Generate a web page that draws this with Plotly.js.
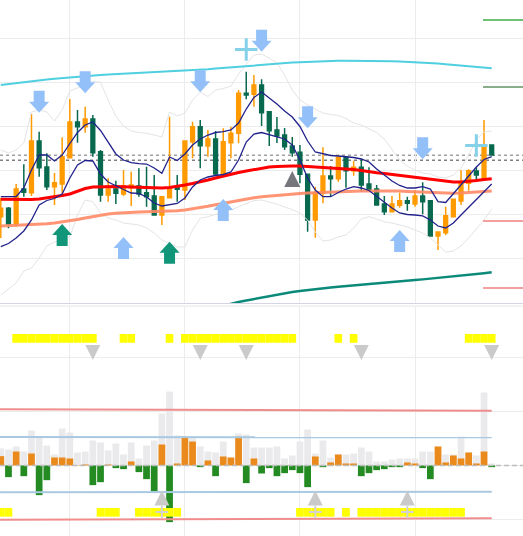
<!DOCTYPE html>
<html><head><meta charset="utf-8">
<script src="https://cdn.plot.ly/plotly-3.0.1.min.js"></script>
<style>html,body{margin:0;padding:0;background:#fff}#chart{width:523px;height:536px}</style>
</head><body><div id="chart"></div>
<script>
// ---------- data (arbitrary price units) ----------
const bars = [0,1,2,3,4,5,6,7,8,9,10,11,12,13,14,15,16,17,18,19,20,21,22,23,24,25,26,27,28,29,30,31,32,33,34,35,36,37,38,39,40,41,42,43,44,45,46,47,48,49,50,51,52,53,54,55,56,57,58,59,60,61,62,63,64];
const open  = [109.39,111.3,107.73,115.68,114.84,126.59,120.68,116.2,116.82,122.8,130.91,129.84,131.59,124.16,114.32,115.68,114.55,115.98,116.36,114.84,114.09,109.77,113.7,115.98,115.45,126.43,129.84,125.45,127.05,119.09,126.2,128.34,137.43,137.2,139.32,133.25,129.09,127.95,125.45,124.02,119.02,108.64,114.7,118.64,118.02,122.89,119.84,120.61,116.82,115.68,112.27,110.52,111.98,113.02,112.27,114.09,113.02,105,105.75,109.39,112.95,116.98,119.77,117.89,125.68];
const high  = [113.64,111.59,116.82,121.3,132.73,128.7,123.8,119.32,127.43,136.14,133.64,134.39,132.5,124.55,118.11,117.57,120,119.61,120.39,120.75,118.86,113.93,132.11,118.86,126.59,130.98,131.36,129.09,128.86,129.48,129.84,138.18,142.34,141.59,140.61,133.25,132.05,129.55,127.5,125.68,119.02,116.2,125.16,120.91,123.41,122.89,122.11,122.43,120.61,116.59,114.09,114.09,114.84,113.93,115.45,117.2,113.02,105.91,111.66,113.34,120,120.16,120.61,131.36,125.68];
const low   = [104.55,106.75,107.11,113.93,114.09,118.48,115.45,112.05,114.7,122.8,126.2,128.48,123.02,112.8,112.8,112.27,114.09,111.82,113.93,111.66,109.77,107.5,113.7,112.8,113.18,122.66,120.39,123.02,118.64,119.09,122.66,126.07,136.07,134.39,130,125.45,126.14,124.55,123.02,116.98,105.98,104.61,112.43,113.93,117.34,115.98,118.7,115.07,115.23,112.05,109.77,110.52,111.43,110.75,111.66,109.93,104.84,101.82,105.23,109.39,112.05,115.3,117.34,117.73,123.41];
const close = [111.3,107.73,115.68,114.93,126.59,120.52,116.2,117.11,123.02,130.91,129.84,131.59,123.93,114.32,115.68,114.7,116.36,116.59,114.55,113.93,109.77,113.93,115.98,115.61,126.59,129.84,125.52,127.05,119.09,126.43,128.34,137.43,137.05,139.32,133.02,128.93,127.73,125.3,123.93,119.02,108.64,114.84,118.64,118.02,122.89,119.84,120.61,116.59,115.45,112.05,110.52,112.27,113.02,112.43,114.09,112.8,105,105.91,109.61,113.34,116.98,119.84,118.86,125.68,123.41];

const cyanLine  = [139.32,139.55,139.77,139.98,140.18,140.39,140.57,140.75,140.91,141.07,141.2,141.34,141.45,141.57,141.68,141.77,141.86,141.95,142.02,142.09,142.16,142.2,142.27,142.36,142.45,142.59,142.73,142.89,143.05,143.2,143.36,143.52,143.66,143.8,143.93,144.07,144.18,144.3,144.41,144.5,144.59,144.66,144.73,144.77,144.82,144.84,144.84,144.84,144.82,144.8,144.77,144.73,144.66,144.59,144.5,144.41,144.3,144.18,144.05,143.91,143.77,143.61,143.45,143.3,143.11];
const redLine   = [113.34,113.30,113.23,113.18,113.30,113.41,113.64,113.86,114.20,114.55,115.11,115.80,116.14,116.20,116.25,116.25,116.20,116.14,116.02,115.91,115.84,115.91,116.02,116.25,116.59,116.93,117.27,117.73,118.18,118.64,118.98,119.43,119.77,120.11,120.45,120.68,120.80,120.91,120.91,120.91,120.84,120.73,120.57,120.45,120.39,120.27,120.11,119.89,119.59,119.36,119.20,118.98,118.70,118.45,118.23,118.00,117.77,117.57,117.39,117.27,117.27,117.39,117.61,117.84,118.00];
const coralLine = [107.27,107.34,107.41,107.48,107.57,107.66,107.80,107.95,108.18,108.45,108.75,109.09,109.43,109.77,110.00,110.18,110.32,110.41,110.45,110.50,110.52,110.57,110.64,110.75,110.91,111.14,111.43,111.75,112.09,112.43,112.77,113.11,113.41,113.68,113.91,114.09,114.25,114.41,114.55,114.68,114.77,114.86,114.93,115.00,115.07,115.14,115.18,115.23,115.25,115.27,115.27,115.25,115.20,115.14,115.05,114.95,114.86,114.77,114.70,114.70,114.77,114.86,114.98,115.09,115.23];
const tealStart = 27;
const tealLine  = [88.30,88.75,89.20,89.66,90.00,90.34,90.68,91.02,91.36,91.68,91.98,92.27,92.50,92.73,92.95,93.14,93.30,93.45,93.59,93.73,93.86,94.02,94.18,94.34,94.50,94.66,94.82,94.98,95.14,95.30,95.45,95.61,95.77,95.96,96.14,96.34,96.55,96.75];
const bandUpper = [113.93,113.93,113.98,115.91,120.00,123.41,123.41,122.05,123.41,126.02,128.52,130.23,130.91,128.98,126.36,123.64,122.27,121.66,121.43,121.36,120.45,119.25,122.95,122.16,123.64,125.68,127.05,127.95,128.52,128.70,129.09,130.68,133.86,136.48,137.73,136.36,135.00,133.41,132.05,129.89,126.59,124.09,123.64,123.30,123.18,123.02,122.84,122.50,121.82,120.23,118.86,117.50,116.48,115.91,115.91,116.20,115.68,112.80,112.61,114.55,116.59,118.64,120.68,122.39,123.02];
const bandLower = [102.57,103.30,104.55,106.14,108.64,112.05,113.07,113.52,114.55,118.18,121.14,122.16,122.05,119.09,117.27,116.36,115.57,114.77,114.70,113.86,112.50,111.82,112.05,112.39,113.64,116.14,117.73,118.41,118.75,118.98,119.55,122.27,126.36,128.18,128.52,128.07,127.61,127.05,125.68,122.27,118.18,115.45,113.93,113.93,114.89,115.68,116.20,115.91,115.34,113.98,112.80,111.36,110.23,109.89,109.77,109.55,108.64,107.27,106.82,107.95,109.77,111.59,113.18,115.00,116.82];
const envUpper  = [124.55,123.86,124.55,126.14,133.18,133.64,133.18,131.14,133.64,137.95,138.64,139.55,140.07,140.00,135.91,132.27,130.00,128.86,128.52,128.34,127.95,127.50,133.18,132.27,132.95,135.91,137.73,136.70,138.18,138.52,139.09,141.82,144.09,146.14,146.36,145.45,144.32,141.59,138.18,135.91,134.77,133.86,132.95,132.61,132.39,131.70,130.68,130.23,129.32,128.52,127.05,124.55,122.27,120.91,120.00,119.32,119.09,118.41,118.18,118.86,120.45,123.41,126.82,128.64,128.86];
const envLower  = [91.59,92.95,94.32,97.05,97.73,100.00,102.73,103.64,104.09,104.77,109.77,113.18,112.80,110.23,109.09,108.64,107.95,107.73,107.50,106.82,105.68,104.09,103.41,102.50,102.50,106.36,109.02,109.39,110.00,110.45,110.91,111.59,112.43,113.07,113.18,112.80,112.27,111.59,111.02,110.23,108.64,105.91,103.86,104.09,104.77,105.23,106.82,108.86,109.39,108.86,108.25,107.95,107.50,107.05,106.36,105.68,104.55,102.95,101.36,101.59,102.73,104.55,106.59,108.64,111.09];

const dottedLevels = [123.34, 122.20];
const sideLevels   = [154.09, 138.86, 108.41, 93.18];
const sideLevelFrom = 62.87;

const downArrowIdx = [5,11,26,34,40,55];
const downArrowTip = [133.02,137.43,137.66,146.89,129.48,122.43];
const upArrowIdx   = [16,29,52];
const upArrowTip   = [104.77,113.41,106.36];
const tealArrowIdx = [8,22];
const tealArrowTip = [107.73,103.70];
const grayTriIdx   = [38];
const grayTriTip   = [119.77];
const plusIdx      = [32,62];
const plusY        = [147.39,125.57];

// lower panel
const volume = [0.315,0.296,0.352,0.259,0.648,0.537,0.370,0.204,0.685,0.611,0.241,0.259,0.463,0.426,0.278,0.407,0.204,0.426,0.130,0.370,0.463,0.963,1.370,0.556,0.537,0.537,0.352,0.259,0.241,0.444,0.148,0.593,0.574,0.333,0.333,0.333,0.352,0.130,0.185,0.444,0.667,0.222,0.463,0.148,0.204,0.204,0.222,0.333,0.259,0.074,0.074,0.111,0.130,0.130,0.130,0.259,0.259,0.352,0.204,0.204,0.537,0.241,0.185,1.352,0.037];
const delta  = [0.173,-0.216,0.259,-0.198,0.222,-0.549,-0.272,0.148,0.148,0.130,0.006,0.019,-0.364,-0.309,0.019,-0.049,-0.068,0.074,-0.123,-0.253,-0.475,0.389,-1.049,0.037,0.537,0.444,-0.031,0.093,-0.198,0.167,0.148,0.537,-0.327,0.130,-0.148,-0.049,-0.198,-0.142,-0.086,-0.142,-0.401,0.167,-0.031,0.056,0.204,0.037,0.037,-0.198,-0.142,-0.086,-0.068,-0.031,-0.031,0.056,0.037,-0.049,-0.253,0.352,0.056,0.185,0.130,0.241,0.037,0.259,-0.031];
const topSignalIdx    = [2,3,4,5,6,7,8,9,10,11,12,16,17,22,24,25,26,27,28,29,30,31,32,33,34,35,36,37,38,44,46,61,62,63,64];
const bottomSignalIdx = [0,1,13,14,15,18,19,20,21,22,23,39,40,41,42,43,45,47,48,49,50,51,52,53,54,55,56,57,58,59,60];
const sellTriIdx = [12,26,32,47,64];
const buyTriIdx  = [21,41,53];
const threshX      = [-0.1, 64];
const upperRed     = [1.041, 1.015];
const upperBlue    = [0.528, 0.522];
const lowerBlue    = [-0.496, -0.485];
const lowerRed     = [-1.004, -0.978];

// ---------- layout geometry ----------
const W = 523, H = 536, TOP_H = 303, BOT_TOP = 306;
const X_RANGE  = [-0.104, 68.08];
const Y_RANGE  = [89.773, 158.636];
const Y2_RANGE = [-1.306, 2.954];
const KX  = (X_RANGE[1]-X_RANGE[0]) / W;
const KY  = (Y_RANGE[1]-Y_RANGE[0]) / TOP_H;
const KY2 = (Y2_RANGE[1]-Y2_RANGE[0]) / (H - BOT_TOP);
const SIG_TOP = [2.273, 2.435], SIG_BOT = [-0.948, -0.787];
const SELL_TIP = 1.954, BUY_TIP = -0.465, CROSS_Y = -0.861;

const ORANGE = '#ff9a00', DKGREEN = '#08694e';

function pathShape(pts, yref, color){
  return {type:'path', xref:'x', yref:yref, layer:'above', fillcolor:color, line:{width:0},
    path:'M' + pts.map(p => p[0].toFixed(4)+','+p[1].toFixed(4)).join(' L') + ' Z'};
}
function blockArrow(x, tip, dir, color){ // dir +1 up, -1 down
  const hw = 10*KX, sw = 5.5*KX, hh = 11*KY*(-dir), tl = 22*KY*(-dir);
  return pathShape([[x,tip],[x+hw,tip+hh],[x+sw,tip+hh],[x+sw,tip+tl],[x-sw,tip+tl],[x-sw,tip+hh],[x-hw,tip+hh]], 'y', color);
}
function triangle(x, tip, dir, w, h, yref, ky, color){
  const hw = w/2*KX, dh = h*ky*(-dir);
  return pathShape([[x,tip],[x+hw,tip+dh],[x-hw,tip+dh]], yref, color);
}

const shapes = [];
dottedLevels.forEach((v,i) => shapes.push({type:'line', xref:'paper', yref:'y', x0:0, x1:1, y0:v, y1:v, layer:'below',
  line:{color: i===0 ? '#a0a0a0' : '#808080', width:1.5, dash:'dot'}}));
shapes.push({type:'line', xref:'paper', yref:'paper', x0:0, x1:1, y0:(H-BOT_TOP)/H, y1:(H-BOT_TOP)/H, layer:'below', line:{color:'#e6e6e6', width:1}});
shapes.push({type:'line', xref:'paper', yref:'y2', x0:0, x1:1, y0:0, y1:0, layer:'above', line:{color:'#bdbdbd', width:1.5, dash:'5px,3px'}});
downArrowIdx.forEach((x,i) => shapes.push(blockArrow(x, downArrowTip[i], -1, '#93c0f8')));
upArrowIdx.forEach((x,i) => shapes.push(blockArrow(x, upArrowTip[i], 1, '#93c0f8')));
tealArrowIdx.forEach((x,i) => shapes.push(blockArrow(x, tealArrowTip[i], 1, '#12967a')));
grayTriIdx.forEach((x,i) => shapes.push(triangle(x, grayTriTip[i], 1, 16, 16, 'y', KY, '#76777d')));
sellTriIdx.forEach(x => shapes.push(triangle(x, SELL_TIP, -1, 15, 15, 'y2', KY2, '#cacaca')));
buyTriIdx.forEach(x => shapes.push(triangle(x, BUY_TIP, 1, 15, 15, 'y2', KY2, '#cacaca')));

function line(x, y, color, width, extra){
  return Object.assign({type:'scatter', mode:'lines', x:x, y:y, xaxis:'x', yaxis:'y',
    line:{color:color, width:width}, hoverinfo:'skip'}, extra||{});
}

const traces = [
  line(bars, envUpper, '#e4e4e4', 1),
  line(bars, envLower, '#e4e4e4', 1),
  line(bars, cyanLine, '#4fcfe0', 2),
  line(bars, coralLine, '#ff8a66', 3, {opacity:0.9}),
  line(bars, redLine, '#ff0000', 3),
  line(bars.slice(tealStart), tealLine, '#0b8a7a', 2.5),
  {type:'candlestick', x:bars, open:open, high:high, low:low, close:close, xaxis:'x', yaxis:'y',
   increasing:{line:{color:ORANGE, width:1.5}, fillcolor:ORANGE},
   decreasing:{line:{color:DKGREEN, width:1.5}, fillcolor:DKGREEN},
   whiskerwidth:0, hoverinfo:'skip'},
  line(bars, bandUpper, '#22228c', 1.3),
  line(bars, bandLower, '#22228c', 1.3),
];
sideLevels.forEach((v,i) => traces.push(line([sideLevelFrom, X_RANGE[1]], [v,v],
  ['#6fc273','#8aae8a','#f4a0a0','#f4a0a0'][i], 2)));
traces.push({type:'scatter', mode:'markers', x:plusIdx, y:plusY, xaxis:'x', yaxis:'y', hoverinfo:'skip',
  marker:{symbol:'cross-thin', size:16, color:'#86d1ea', line:{color:'#86d1ea', width:3}}});

// lower panel traces
traces.push({type:'bar', x:bars, y:volume, xaxis:'x2', yaxis:'y2', width:0.88,
  marker:{color:'#eaeaec', line:{width:0}}, hoverinfo:'skip'});
traces.push({type:'bar', x:bars, y:delta, xaxis:'x2', yaxis:'y2', width:0.88,
  marker:{color: delta.map(v => v >= 0 ? '#ea8a1c' : '#238b22'), line:{width:0}}, hoverinfo:'skip'});
traces.push({type:'bar', x:topSignalIdx, y:topSignalIdx.map(() => SIG_TOP[1]-SIG_TOP[0]), base:SIG_TOP[0],
  xaxis:'x2', yaxis:'y2', width:1, marker:{color:'#ffff00', line:{width:0}}, hoverinfo:'skip'});
traces.push({type:'bar', x:bottomSignalIdx, y:bottomSignalIdx.map(() => SIG_BOT[1]-SIG_BOT[0]), base:SIG_BOT[0],
  xaxis:'x2', yaxis:'y2', width:1, marker:{color:'#ffff00', line:{width:0}}, hoverinfo:'skip'});
[[upperRed,'#f08c8c'],[upperBlue,'#a9c8e2'],[lowerBlue,'#a9c8e2'],[lowerRed,'#f08c8c']].forEach(([v,c]) =>
  traces.push({type:'scatter', mode:'lines', x:threshX, y:v, xaxis:'x2', yaxis:'y2', line:{color:c, width:2}, hoverinfo:'skip'}));
traces.push({type:'scatter', mode:'markers', x:buyTriIdx, y:buyTriIdx.map(() => CROSS_Y), xaxis:'x2', yaxis:'y2', hoverinfo:'skip',
  marker:{symbol:'cross-thin', size:9, color:'#d2d2d2', line:{color:'#d2d2d2', width:2}}});

const axX = {range:X_RANGE, tickvals:[9,24,39,54], showticklabels:false, ticks:'', showgrid:true,
  gridcolor:'#ececec', gridwidth:1, zeroline:false, fixedrange:true};
const layout = {
  width:W, height:H, margin:{l:0,r:0,t:0,b:0,pad:0}, showlegend:false,
  paper_bgcolor:'#ffffff', plot_bgcolor:'#ffffff', barmode:'overlay',
  xaxis: Object.assign({}, axX, {anchor:'y', showline:true, linecolor:'#d4d4e4', linewidth:1, rangeslider:{visible:false}}),
  yaxis: {domain:[1-TOP_H/H, 1], range:Y_RANGE, tickvals:[100,110,120,130,140,150], showticklabels:false, ticks:'',
          showgrid:true, gridcolor:'#ececec', zeroline:false, fixedrange:true},
  xaxis2: Object.assign({}, axX, {anchor:'y2'}),
  yaxis2: {domain:[0, (H-BOT_TOP)/H], range:Y2_RANGE, tickvals:[-1,0,1,2], showticklabels:false, ticks:'',
           showgrid:true, gridcolor:'#ececec', zeroline:false, fixedrange:true},
  shapes: shapes
};
Plotly.newPlot('chart', traces, layout, {staticPlot:true, displayModeBar:false});
</script>
</body></html>
